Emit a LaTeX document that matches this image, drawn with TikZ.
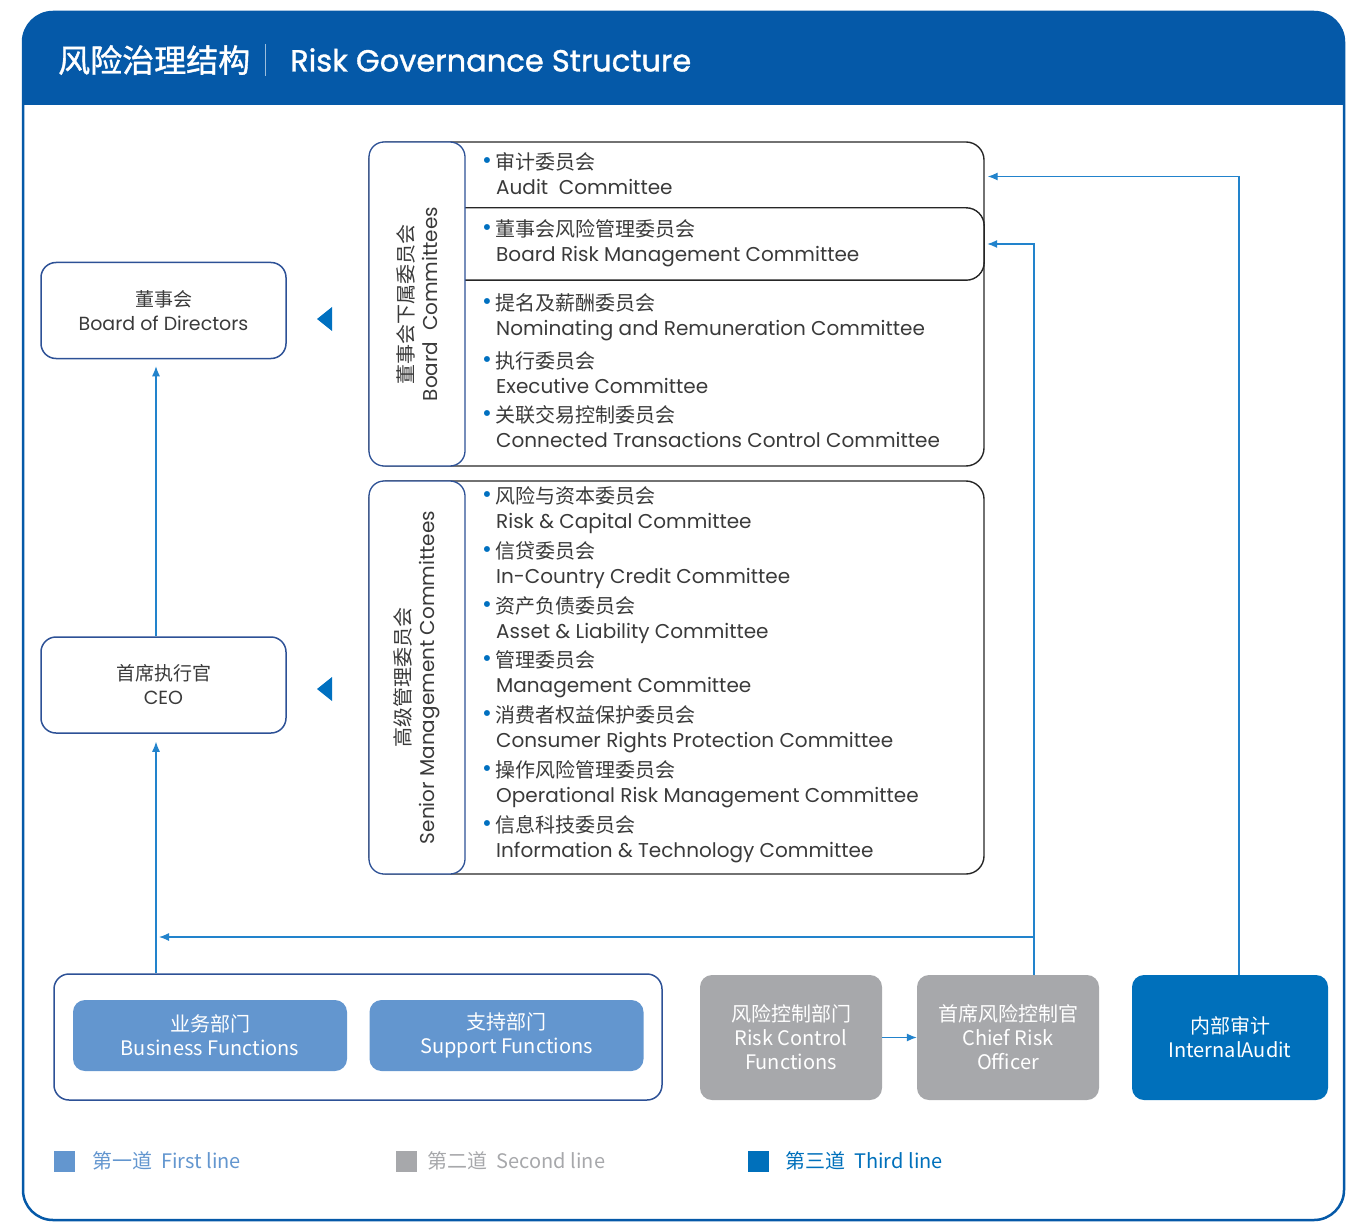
\documentclass[tikz,border=0pt]{standalone}
\usepackage{fontspec}
\setmainfont{Poppins}
\newfontfamily\cjk{Noto Sans CJK SC}
\newfontfamily\ttlfont{Poppins}[FakeBold=1.2]
\newfontfamily\cjkttl{Noto Sans CJK SC}[FakeBold=1.2]
\usetikzlibrary{positioning, arrows.meta}

\definecolor{headblue}{HTML}{0559A8}
\definecolor{boxblue}{HTML}{2D5196}
\definecolor{linkblue}{HTML}{2283CC}
\definecolor{markblue}{HTML}{0070C0}
\definecolor{listgray}{HTML}{262626}
\definecolor{txtgray}{HTML}{3A3A3A}
\definecolor{firstblue}{HTML}{6396CF}
\definecolor{secgray}{HTML}{A7A8AB}
\definecolor{thirdblue}{HTML}{0070BB}

\newcommand\bul{\makebox[13pt][l]{\textcolor{markblue}{\fontsize{24}{24}\selectfont\raisebox{1pt}{\textbullet}}}}

\tikzset{
  lbox/.style={draw=boxblue, line width=1.5pt, rounded corners=15pt, minimum width=245pt,
    minimum height=96pt, align=center, text=txtgray, font=\fontsize{19}{24}\selectfont},
  listbox/.style={draw=listgray, line width=1.4pt, rounded corners=18pt, inner sep=0pt},
  tagbox/.style={draw=boxblue, line width=1.3pt, rounded corners=15pt, fill=white, rotate=90,
    align=center, text=txtgray, font=\fontsize{20}{24}\selectfont},
  entry/.style={anchor=west, align=left, inner sep=0pt, text=txtgray, font=\fontsize{20}{25}\selectfont},
  unit/.style={rounded corners=12pt, text=white, align=center, inner sep=0pt,
    font=\cjk\fontsize{20}{24}\selectfont},
  legsq/.style={minimum size=21pt, inner sep=0pt},
  legtxt/.style={inner sep=0pt, anchor=west, font=\cjk\fontsize{20}{24}\selectfont},
  conn/.style={draw=linkblue, line width=1.2pt, -{Latex[length=10pt,width=8pt]}},
}

\begin{document}
\begin{tikzpicture}[x=1pt, y=-1pt]
  \useasboundingbox (0,0) rectangle (1348,1222);

  % frame and title bar
  \begin{scope}
    \clip[rounded corners=30pt] (23,12) rectangle (1344,1220);
    \fill[headblue] (23,12) rectangle (1344,105);
  \end{scope}
  \draw[headblue, line width=2.5pt, rounded corners=30pt] (23,12) rectangle (1344,1220);
  \node[anchor=west, inner sep=0pt, text=white, font=\cjkttl\fontsize{32}{36}\selectfont] (ttlcn) at (58,60) {风险治理结构};
  \draw[white!60!headblue, line width=1pt] (265,44) -- (265,76);
  \node[anchor=west, inner sep=0pt, text=white, font=\ttlfont\fontsize{30.5}{36}\selectfont] (ttlen) at (290,60) {Risk Governance Structure};

  % board and ceo
  \node[lbox] (bod) at (163.5,310.5) {{\cjk 董事会}\\Board of Directors};
  \node[lbox] (ceo) at (163.5,685) {{\cjk 首席执行官}\\CEO};
  \coordinate (spine) at (156,0);
  \fill[markblue] (332,307) -- (317,319) -- (332,331) -- cycle;
  \fill[markblue] (332,677) -- (317,689) -- (332,701) -- cycle;

  % board committees
  \node[listbox, minimum width=615pt, minimum height=324pt] (bclist) at (676.5,304) {};
  \node[minimum width=519pt, minimum height=72pt, inner sep=0pt] (brmcbox) at (724.5,244) {};
  \draw[listgray, line width=1.4pt, rounded corners=18pt]
    (brmcbox.north west) -- (brmcbox.north east) -- (brmcbox.south east) -- (brmcbox.south west);
  \node[tagbox, minimum width=324pt, minimum height=96pt] (bctag) at (417,304)
    {{\cjk 董事会下属委员会}\\Board\ \ Committees};
  \foreach \n/\y/\cn/\en in {audit/173.5/审计委员会/Audit\ \ Committee,
      brmc/243.5/董事会风险管理委员会/Board Risk Management Committee,
      nrc/317.5/提名及薪酬委员会/Nominating and Remuneration Committee,
      exco/372.5/执行委员会/Executive Committee,
      ctcc/427/关联交易控制委员会/Connected Transactions Control Committee}
    \node[entry] (\n) at (482,\y) {\bul{\cjk \cn}\\\hspace*{14pt}\en};

  % senior management committees
  \node[listbox, minimum width=615pt, minimum height=393pt] (smlist) at (676.5,677.5) {};
  \node[tagbox, minimum width=393pt, minimum height=96pt] (smtag) at (417,677.5)
    {{\cjk 高级管理委员会}\\Senior Management Committees};
  \foreach \n/\y/\cn/\en in {rcc/510.5/风险与资本委员会/Risk \& Capital Committee,
      credit/565.5/信贷委员会/In-Country Credit Committee,
      alco/620.5/资产负债委员会/Asset \& Liability Committee,
      mgmt/674.5/管理委员会/Management Committee,
      crpc/729.5/消费者权益保护委员会/Consumer Rights Protection Committee,
      ormc/784.5/操作风险管理委员会/Operational Risk Management Committee,
      itc/839.5/信息科技委员会/Information \& Technology Committee}
    \node[entry] (\n) at (482,\y) {\bul{\cjk \cn}\\\hspace*{14pt}\en};

  % three lines of defence
  \node[draw=boxblue, line width=1.5pt, rounded corners=15pt, minimum width=608pt, minimum height=126pt] (fl) at (358,1037) {};
  \node[unit, fill=firstblue, minimum width=274pt, minimum height=71pt] (bf) at (210,1035.5) {业务部门\\Business Functions};
  \node[unit, fill=firstblue, minimum width=274pt, minimum height=71pt] (sf) at (506.5,1035.5) {支持部门\\Support Functions};
  \node[unit, fill=secgray, minimum width=182pt, minimum height=125pt] (rcf) at (791,1037.5) {风险控制部门\\Risk Control\\Functions};
  \node[unit, fill=secgray, minimum width=182pt, minimum height=125pt] (cro) at (1008,1037.5) {首席风险控制官\\Chief Risk\\Officer};
  \node[unit, fill=thirdblue, minimum width=196pt, minimum height=125pt] (ia) at (1230,1037.5) {内部审计\\InternalAudit};
  \coordinate (crojoin) at (1034,937);

  % connectors
  \draw[conn, shorten >=7pt] (spine |- ceo.north) -- (spine |- bod.south);
  \draw[conn, shorten >=8pt] (spine |- fl.north) -- (spine |- ceo.south);
  \draw[conn] (crojoin) -- ([xshift=3pt]spine |- crojoin);
  \draw[conn, shorten >=3pt] (crojoin |- cro.north) |- (brmcbox.east);
  \draw[conn, shorten >=3pt] ([xshift=9pt]ia.north) |- ([yshift=-3pt]bclist.east |- audit);
  \draw[conn] (rcf) -- (cro);

  % legend
  \node[legsq, fill=firstblue] (lg1) at (64.5,1161) {};
  \node[legtxt, text=firstblue, right=17pt of lg1] (lt1) {第一道\ \ First line};
  \node[legsq, fill=secgray] (lg2) at (406,1161) {};
  \node[legtxt, text=secgray, right=11pt of lg2] (lt2) {第二道\ \ Second line};
  \node[legsq, fill=thirdblue] (lg3) at (758.5,1161) {};
  \node[legtxt, text=thirdblue, right=16pt of lg3] (lt3) {第三道\ \ Third line};
\end{tikzpicture}
\end{document}
